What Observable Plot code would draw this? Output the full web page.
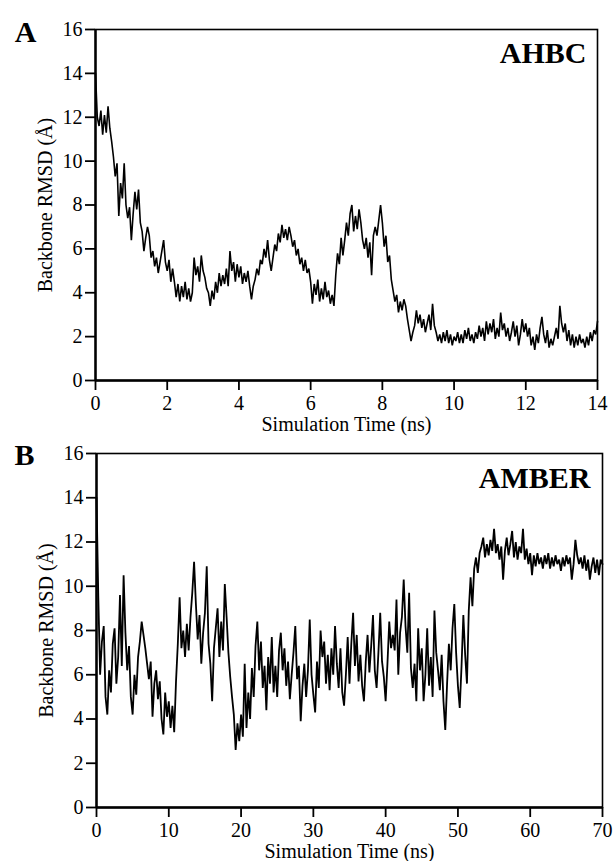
<!DOCTYPE html>
<html><head><meta charset="utf-8">
<script src="https://cdn.jsdelivr.net/npm/d3@7"></script>
<script src="https://cdn.jsdelivr.net/npm/@observablehq/plot@0.6"></script>
<style>
body{margin:0;background:#fff;}
#wrap{position:relative;width:613px;height:861px;overflow:hidden;background:#fff;}
#wrap svg{position:absolute;left:0;}
</style></head><body><div id="wrap"></div>
<script>
// Panel A (AHBC): RMSD sampled every 0.05 ns, 0–14 ns
const timeStepA = 0.05;
const rmsdA = [
14.0,12.0,11.6,12.3,11.2,12.1,11.3,12.5,11.5,10.9,10.2,9.3,9.9,7.5,9.0,8.3,9.9,8.0,7.4,7.9,
6.4,7.6,8.6,7.8,8.7,7.2,6.8,5.9,6.5,7.0,6.6,5.6,5.9,5.2,5.6,4.9,5.4,5.9,6.4,5.4,
5.0,5.5,4.5,5.1,4.5,3.8,4.4,3.6,4.3,3.8,4.5,3.7,4.2,3.6,4.0,5.6,4.8,5.2,4.5,5.7,
5.0,4.7,4.2,4.0,3.4,4.1,3.7,4.5,4.0,4.9,4.3,4.8,4.4,5.1,4.3,5.9,5.0,5.4,4.5,5.3,
4.7,5.2,4.4,4.9,4.5,5.0,4.3,3.7,4.3,4.6,5.1,4.8,5.5,5.3,6.0,5.6,6.4,5.5,5.0,5.6,
6.2,5.9,6.7,6.3,7.1,6.5,6.9,6.4,7.0,6.6,6.1,6.4,5.7,6.0,5.3,5.6,5.0,5.5,4.9,5.1,
4.5,3.5,4.4,3.9,4.6,3.6,4.2,3.7,4.5,3.8,4.1,3.5,3.9,3.4,4.8,5.8,5.3,6.5,5.7,6.4,
7.2,6.6,7.6,8.0,6.8,7.5,6.9,7.8,7.2,6.4,6.0,6.5,5.6,6.3,4.8,6.6,7.0,6.6,7.3,8.0,
7.2,6.1,6.6,5.4,5.7,4.6,4.1,3.6,3.9,3.1,3.6,3.2,3.7,3.4,2.8,2.3,1.8,2.2,2.5,3.2,
2.6,3.0,2.4,2.8,2.2,2.6,3.0,2.3,3.5,2.5,2.2,1.8,2.1,1.7,2.2,1.8,2.3,1.7,2.1,1.6,
2.0,1.8,2.2,1.7,2.1,1.7,2.3,1.9,2.4,1.8,2.1,1.7,2.2,1.9,2.5,2.0,2.4,1.8,2.7,2.1,
2.6,2.2,2.8,1.9,2.4,2.0,3.1,2.3,2.6,2.0,2.4,1.8,2.2,2.7,2.0,2.5,1.6,2.1,2.8,2.2,
2.6,2.0,2.4,1.6,2.0,1.4,2.1,1.7,2.4,2.9,2.1,1.7,2.3,1.5,1.9,1.6,2.0,2.4,1.9,3.4,
2.6,2.2,2.6,1.8,2.3,1.6,2.1,1.5,2.0,1.6,2.1,1.7,1.9,1.5,2.0,1.6,2.2,1.8,2.3,2.1,
2.7
];

// Panel B (AMBER): RMSD sampled every 0.25 ns, 0–70 ns
const timeStepB = 0.25;
const rmsdB = [
14.0,9.5,6.0,7.5,8.2,5.0,4.2,6.2,5.2,7.4,8.1,5.6,6.8,9.6,6.4,10.5,7.9,6.2,7.3,5.0,
4.2,6.0,5.1,6.8,7.5,8.4,7.8,7.2,6.5,5.8,6.6,4.1,5.6,6.2,4.9,5.7,4.0,3.3,5.2,4.1,
4.8,3.6,4.6,3.4,5.7,7.4,9.5,7.2,8.0,6.8,8.3,7.1,8.6,9.7,11.1,9.2,7.6,8.7,6.5,7.9,
8.8,10.9,7.4,6.5,4.8,7.2,8.1,9.0,6.8,8.4,7.1,10.1,8.6,7.0,5.9,5.0,4.2,2.6,3.8,3.0,
4.2,3.2,6.5,3.6,5.2,4.0,6.3,5.0,7.3,8.4,6.2,7.5,5.4,6.4,4.4,6.8,5.6,7.7,5.2,6.4,
5.0,7.1,7.9,6.2,7.2,5.5,6.6,4.9,6.0,7.0,8.2,5.8,6.4,3.9,5.5,6.5,5.0,6.2,8.5,6.0,
5.1,4.3,6.6,5.4,8.0,6.8,7.5,5.6,6.9,5.3,7.2,6.0,8.2,6.5,5.4,7.2,5.2,4.6,6.0,7.7,
5.6,7.4,8.8,6.4,7.8,5.7,6.9,5.5,4.8,6.6,7.8,6.1,7.3,8.7,6.2,5.4,7.0,8.8,6.6,5.9,
4.8,6.5,8.4,7.2,7.8,7.1,9.4,6.0,7.9,8.6,10.3,8.2,7.0,9.7,6.3,5.4,6.5,4.8,8.1,6.2,
7.2,4.8,6.0,8.1,5.5,6.8,5.0,8.9,7.0,6.2,5.3,6.9,4.8,3.5,5.6,7.4,6.2,8.1,9.2,7.0,
5.5,4.5,6.4,8.7,6.9,5.6,8.9,10.4,9.1,10.8,11.3,10.6,11.5,11.8,12.2,11.3,11.9,11.4,12.1,11.6,
12.6,11.5,11.9,11.2,11.8,10.3,11.6,12.2,11.4,11.9,12.5,11.3,12.0,11.2,11.8,11.5,12.6,11.2,11.7,11.0,
11.5,10.5,11.4,10.9,11.5,11.0,11.3,10.8,11.4,11.0,11.5,10.8,11.3,10.9,11.4,11.0,11.2,10.7,11.3,10.9,
11.4,11.0,11.3,10.3,11.0,12.1,11.4,11.0,11.3,10.8,11.4,10.7,11.2,10.3,10.9,11.3,10.6,11.2,10.5,11.2,
11.0
];

const yTicks = [0, 2, 4, 6, 8, 10, 12, 14, 16];
const xTicksA = [0, 2, 4, 6, 8, 10, 12, 14];
const xTicksB = [0, 10, 20, 30, 40, 50, 60, 70];
const panelLetters = ["A", "B"];
const forceFields = ["AHBC", "AMBER"];
const xLabel = "Simulation Time (ns)";
const yLabel = "Backbone RMSD (Å)";

const FONT = '"Liberation Serif", "Times New Roman", Times, serif';

function panel(cfg) {
  const data = cfg.values.map((v, i) => ({t: i * cfg.step, v}));
  const svg = Plot.plot({
    width: 613,
    height: cfg.height,
    marginTop: cfg.mt, marginBottom: cfg.mb, marginLeft: cfg.ml, marginRight: cfg.mr,
    style: {fontFamily: FONT, background: "transparent", overflow: "visible", color: "black"},
    x: {domain: cfg.xDomain},
    y: {domain: [0, 16]},
    marks: [
      Plot.frame({stroke: "black", strokeWidth: 1.6}),
      Plot.line(data, {x: "t", y: "v", stroke: "black", strokeWidth: cfg.lineWidth, strokeLinejoin: "miter"}),
      Plot.ruleX([cfg.xDomain[0]], {stroke: "black", strokeWidth: 2.4}),
      Plot.ruleY([0], {stroke: "black", strokeWidth: 2.4}),
      Plot.axisX({ticks: cfg.xTicks, tickSize: 10, tickPadding: 5, fontSize: 20, strokeWidth: 1.8,
        label: xLabel, labelAnchor: "center", labelArrow: "none", labelOffset: cfg.xLabelOffset}),
      Plot.axisY({ticks: yTicks, tickSize: 10, tickPadding: 3, fontSize: 20, strokeWidth: 1.8,
        label: yLabel, labelAnchor: "center", labelArrow: "none", labelOffset: 58}),
      Plot.text([cfg.name], {frameAnchor: "top-right", dx: cfg.nameDx, dy: cfg.nameDy, fontSize: 30,
        fontWeight: "bold", textAnchor: "end", lineAnchor: "top"}),
      Plot.text([cfg.letter], {frameAnchor: "top-left", dx: cfg.letterDx, dy: cfg.letterDy, fontSize: 30,
        fontWeight: "bold", textAnchor: "middle", lineAnchor: "top"})
    ]
  });
  svg.style.top = cfg.top + "px";
  document.getElementById("wrap").appendChild(svg);
}

panel({values: rmsdA, step: timeStepA, xDomain: [0, 14], xTicks: xTicksA, name: forceFields[0], letter: panelLetters[0],
  top: 0, height: 440, mt: 29, mb: 60, ml: 95, mr: 16, xLabelOffset: 50, lineWidth: 1.6,
  nameDx: -11, nameDy: 12, letterDx: -70, letterDy: -9});
panel({values: rmsdB, step: timeStepB, xDomain: [0, 70], xTicks: xTicksB, name: forceFields[1], letter: panelLetters[1],
  top: 430, height: 431, mt: 23, mb: 54, ml: 96, mr: 11, xLabelOffset: 50, lineWidth: 1.8,
  nameDx: -12, nameDy: 13, letterDx: -72, letterDy: -10});
</script></body></html>
